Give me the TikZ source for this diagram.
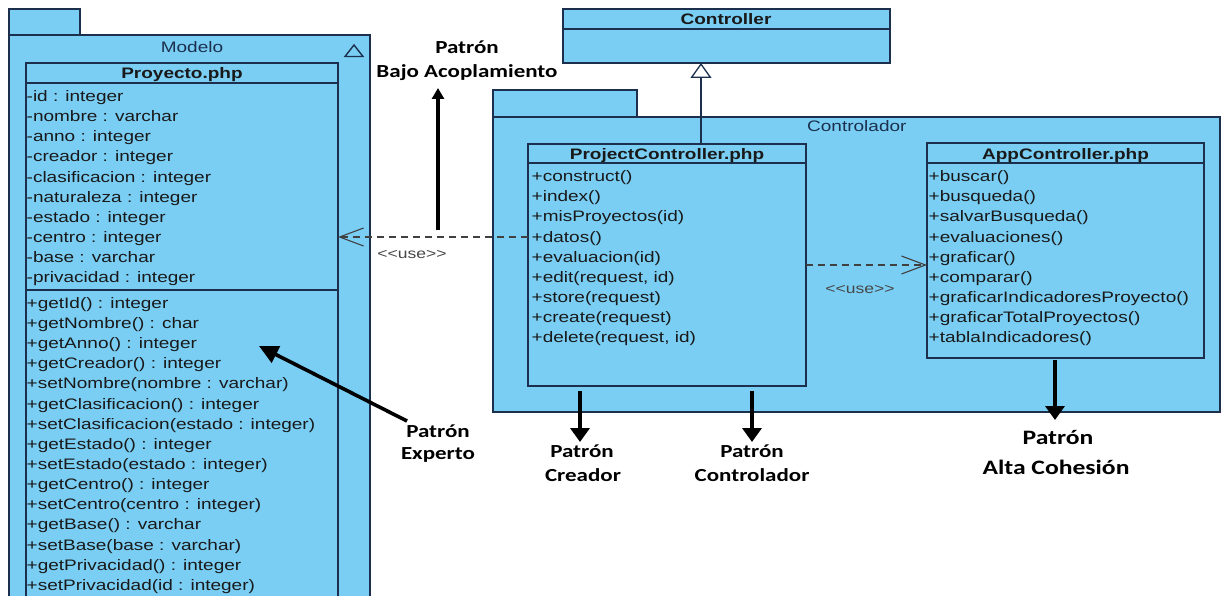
\documentclass[tikz,border=0pt]{standalone}
\usepackage{fontspec}
\setmainfont{Liberation Sans}
\newfontfamily\umlfont[FakeStretch=1.25]{Liberation Sans}
\newfontfamily\stereofont[FakeStretch=1.25,Ligatures=TeXOff]{Liberation Sans}
\newfontfamily\notefont[FakeStretch=1.25]{Carlito}
\usetikzlibrary{arrows.meta}
\definecolor{umlfill}{RGB}{122,206,244}
\definecolor{umlline}{RGB}{28,48,78}
\definecolor{usegray}{RGB}{70,70,70}

\begin{document}
\begin{tikzpicture}[x=1pt,y=-1pt,
  box/.style={draw=umlline, fill=umlfill, line width=1.3pt, anchor=north west,
    inner sep=0pt, outer sep=0pt},
  sepline/.style={draw=umlline, line width=1.3pt},
  member/.style={anchor=base west, inner sep=0pt,
    font=\umlfont\fontsize{15.2}{18}\selectfont, text=black!90},
  title/.style={anchor=base, inner sep=0pt,
    font=\umlfont\bfseries\fontsize{15.2}{18}\selectfont, text=black!90},
  pkgname/.style={inner sep=0pt, font=\umlfont\fontsize{15.2}{18}\selectfont, text=umlline},
  stereo/.style={anchor=base, inner sep=0pt,
    font=\stereofont\fontsize{14}{16}\selectfont, text=usegray},
  note/.style={anchor=base, inner sep=0pt,
    font=\notefont\bfseries\fontsize{18.4}{22}\selectfont},
  bignote/.style={anchor=base, inner sep=0pt,
    font=\notefont\bfseries\fontsize{20.5}{24}\selectfont},
  usedep/.style={draw=black!75, line width=1.1pt, dash pattern=on 7pt off 5pt,
    -{Straight Barb[length=24pt, width=18pt, line width=1.1pt]}},
  gen/.style={draw=umlline, line width=1.3pt,
    -{Triangle[length=15pt, width=21pt, fill=white, line width=1.3pt]}},
  pointer/.style={draw=black, line width=4pt, -{Triangle[length=14pt, width=19pt]}},
  thinpointer/.style={draw=black, line width=3.5pt, -{Triangle[length=11pt, width=12pt]}},
  slantpointer/.style={draw=black, line width=3.6pt, -{Triangle[length=19pt, width=18pt]}}
]
\useasboundingbox (0,0) rectangle (1225,596);

% ---------- package Modelo ----------
\node[box, minimum width=71pt, minimum height=26pt] (modeloTab) at (9,9) {};
\node[box, minimum width=361pt, minimum height=580pt] (modelo) at (9,35) {};
\node[pkgname, anchor=base] (modeloName) at (192,52.3) {Modelo};
\draw[umlline, line width=1.4pt, line join=miter] (345,56.5) -- (363,56.5) -- (354,45) -- cycle;

% ---------- class Proyecto.php ----------
\node[box, minimum width=312pt, minimum height=560pt] (proy) at (26,63) {};
\draw[sepline] (26,83) -- (338,83);
\draw[sepline] (26,290) -- (338,290);
\node[title] (proyTitle) at (182,78.3) {Proyecto.php};
\foreach \t [count=\i from 0] in {
  {-id : integer}, {-nombre : varchar}, {-anno : integer}, {-creador : integer},
  {-clasificacion : integer}, {-naturaleza : integer}, {-estado : integer},
  {-centro : integer}, {-base : varchar}, {-privacidad : integer}}
  \node[member] (proyAttr\i) at (26.5,101.5+20.13*\i) {\t};
\foreach \t [count=\i from 0] in {
  {+getId() : integer}, {+getNombre() : char}, {+getAnno() : integer},
  {+getCreador() : integer}, {+setNombre(nombre : varchar)},
  {+getClasificacion() : integer}, {+setClasificacion(estado : integer)},
  {+getEstado() : integer}, {+setEstado(estado : integer)},
  {+getCentro() : integer}, {+setCentro(centro : integer)},
  {+getBase() : varchar}, {+setBase(base : varchar)},
  {+getPrivacidad() : integer}, {+setPrivacidad(id : integer)}}
  \node[member] (proyOp\i) at (26.5,308.3+20.15*\i) {\t};

% ---------- class Controller ----------
\node[box, minimum width=327pt, minimum height=54pt] (ctrl) at (563,9) {};
\draw[sepline] (563,29) -- (890,29);
\node[title] (ctrlTitle) at (726,25) {Controller};

% ---------- package Controlador ----------
\node[box, minimum width=144pt, minimum height=27pt] (contTab) at (493,90) {};
\node[box, minimum width=727pt, minimum height=295pt] (cont) at (493,117) {};
\node[pkgname, anchor=base west] (contName) at (807,131.7) {Controlador};

% ---------- class ProjectController.php ----------
\node[box, minimum width=278pt, minimum height=242pt] (pc) at (528,144) {};
\draw[sepline] (528,163) -- (806,163);
\node[title] (pcTitle) at (667,159.3) {ProjectController.php};
\foreach \t [count=\i from 0] in {
  {+construct()}, {+index()}, {+misProyectos(id)}, {+datos()}, {+evaluacion(id)},
  {+edit(request, id)}, {+store(request)}, {+create(request)}, {+delete(request, id)}}
  \node[member] (pcOp\i) at (531.5,181.7+20.1*\i) {\t};

% ---------- class AppController.php ----------
\node[box, minimum width=277pt, minimum height=215pt] (app) at (927,143) {};
\draw[sepline] (927,163) -- (1204,163);
\node[title] (appTitle) at (1065.5,160) {AppController.php};
\foreach \t [count=\i from 0] in {
  {+buscar()}, {+busqueda()}, {+salvarBusqueda()}, {+evaluaciones()}, {+graficar()},
  {+comparar()}, {+graficarIndicadoresProyecto()}, {+graficarTotalProyectos()},
  {+tablaIndicadores()}}
  \node[member] (appOp\i) at (928.5,181.7+20.1*\i) {\t};

% ---------- relations ----------
\coordinate (useY) at (0,237);
\draw[usedep] (pc.west |- useY) -- (proy.east |- useY);
\node[stereo] (useLeft) at (412,258) {<<use>>};
\draw[usedep] (pc.east) -- (pc.east -| app.west);
\node[stereo] (useRight) at (860,293) {<<use>>};
\coordinate (genX) at (701,0);
\draw[gen] (pc.north -| genX) -- (ctrl.south -| genX);

% ---------- pattern annotations ----------
\node[note] (bajoA) at (467,53.3) {Patrón};
\node[note] (bajoB) at (467,77.3) {Bajo Acoplamiento};
\coordinate (bajoTail) at (438,230);
\coordinate (bajoTip) at (438,88);
\draw[thinpointer] (bajoTail) -- (bajoTip);

\node[note] (expA) at (438,437.7) {Patrón};
\node[note] (expB) at (438,459.3) {Experto};
\coordinate (expTail) at (407,421);
\coordinate (expTip) at (259,346);
\draw[slantpointer] (expTail) -- (expTip);

\node[note] (creA) at (582,457.3) {Patrón};
\node[note] (creB) at (583,481) {Creador};
\coordinate (creTail) at (580,391);
\coordinate (creTip) at (580,442);
\draw[pointer] (creTail) -- (creTip);

\node[note] (conA) at (752,457.3) {Patrón};
\node[note] (conB) at (752,481) {Controlador};
\coordinate (conTail) at (752,391);
\coordinate (conTip) at (752,442);
\draw[pointer] (conTail) -- (conTip);

\node[bignote] (altaA) at (1058,444) {Patrón};
\node[bignote] (altaB) at (1056,474.3) {Alta Cohesión};
\coordinate (altaTail) at (1055,360);
\coordinate (altaTip) at (1055,420);
\draw[pointer] (altaTail) -- (altaTip);
\end{tikzpicture}
\end{document}
